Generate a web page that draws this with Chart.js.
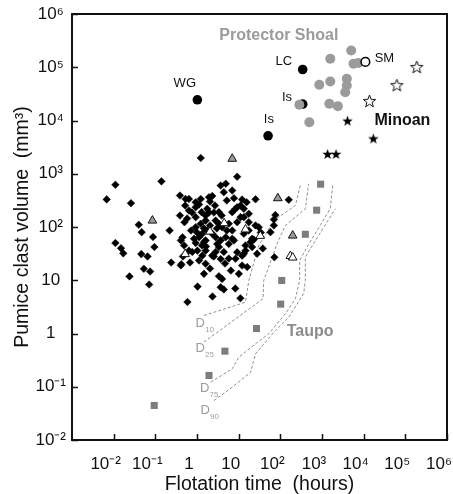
<!DOCTYPE html>
<html>
<head>
<meta charset="utf-8">
<script src="https://cdn.jsdelivr.net/npm/chart.js@4.4.1/dist/chart.umd.min.js"></script>
<style>
  html, body { margin: 0; padding: 0; background: #fff; }
  #wrap { width: 453px; height: 494px; position: relative; }
</style>
</head>
<body>
<div id="wrap"><canvas id="chart"></canvas></div>
<script>
// axis ticks
const xTickValues = [1e-2, 1e-1, 1, 10, 1e2, 1e3, 1e4, 1e5, 1e6];
const xTickLabels = ['10⁻²', '10⁻¹', '1', '10', '10²', '10³', '10⁴', '10⁵', '10⁶'];
const yTickValues = [1e-2, 1e-1, 1, 10, 1e2, 1e3, 1e4, 1e5, 1e6];
const yTickLabels = ['10⁻²', '10⁻¹', '1', '10', '10²', '10³', '10⁴', '10⁵', '10⁶'];

// small diamonds (flotation time in hours, clast volume in mm3)
const diamondTime = [
  0.0068, 0.011, 0.026, 0.14, 1.23, 9.2, 0.040, 0.047, 0.088, 0.095,
  0.011, 0.015, 0.017, 0.046, 0.065, 0.053, 0.075, 0.024, 0.071, 0.22,
  0.24, 0.42, 0.39, 0.64, 0.39, 0.50, 0.45, 0.59, 1.03, 2.35,
  11.0, 8.3, 1.47, 3.36, 4.0, 3.7, 4.4, 10.1, 12.1, 16.0,
  8.4, 9.2, 13.3, 21, 27.7, 14.6, 19.3, 23.1, 17.5, 25.4,
  30.4, 17.5, 13.3, 17.5, 9.2, 13.3, 11.1, 12.1, 15.5, 25.4,
  7.7, 4.4, 7.0, 3.7, 4.9, 1.94, 2.32, 1.23, 0.93, 1.12,
  0.93, 1.29, 1.76, 1.61, 0.93, 1.23, 1.61, 0.93, 1.12, 1.34,
  1.76, 2.32, 2.8, 1.61, 0.93, 1.02, 0.77, 1.61, 1.34, 1.12,
  1.61, 2.32, 2.8, 2.55, 3.06, 3.36, 3.7, 4.9, 5.8, 7.7,
  7.0, 4.4, 3.36, 3.9, 2.8, 3.36, 4.0, 5.8, 7.0, 8.4,
  9.2, 11.1, 13.3, 76, 70, 70, 58, 72, 159, 0.64,
  0.46, 0.68, 2.05, 2.7, 5.2, 3.0, 2.05, 5.2, 5.8, 4.7,
  6.5, 2.05, 1.32, 0.72, 38, 34, 0.52, 0.64, 0.58, 0.76,
  1.47, 1.94, 2.55, 1.0, 0.49, 1.64, 0.53, 0.41, 0.85, 1.47,
  7.0, 21, 3.7, 12.1, 14.6, 0.41
];
const diamondVolume = [
  330, 620, 280, 720, 1980, 880, 110, 80, 65, 42,
  50, 40, 32, 31, 28, 16.4, 14.6, 11.8, 8.3, 86,
  21.5, 20, 390, 336, 164, 123, 64, 3.9, 7.6, 4.95,
  4.6, 7.0, 13.2, 11.9, 10.6, 7.4, 6.7, 13.2, 18.9, 17.7,
  25.3, 33.6, 31.4, 42, 31.4, 45, 52, 58, 86, 107,
  99, 123, 153, 177, 235, 220, 253, 328, 292, 331,
  347, 450, 485, 600, 650, 363, 382, 336, 292, 265,
  235, 190, 220, 164, 153, 115, 132, 99, 64, 75,
  86, 75, 64, 56, 50, 36, 34, 36, 29, 23.5,
  20.4, 29, 34, 28, 48, 42, 56, 64, 48, 56,
  86, 34, 190, 164, 132, 115, 99, 115, 190, 220,
  123, 153, 75, 168, 138, 107, 80, 27, 324, 36,
  28, 21.5, 301, 253, 315, 94, 107, 86, 25.6, 20.6,
  15.2, 16.6, 45, 86, 39.5, 79, 253, 204, 144, 187,
  94, 187, 187, 79, 45, 43, 336, 56, 60, 52,
  60, 60, 25, 29, 36, 19
];

// triangles
const greyTriangleTime = [0.085, 7.0, 87, 198];
const greyTriangleVolume = [132, 1910, 347, 69];
const openTriangleTime = [0.52, 2.05, 4.5, 14.6, 33, 174, 198];
const openTriangleVolume = [31, 82, 118, 90, 68, 28.5, 26.7];

// Taupo squares
const taupoTime = [927, 743, 398, 108, 102, 26.8, 4.68, 1.94, 0.094];
const taupoVolume = [637, 207, 73, 9.9, 3.56, 1.24, 0.466, 0.163, 0.0445];

// labelled black circles: WG, Is, LC, Is
const blackCircleTime = [1.02, 50.8, 344, 344];
const blackCircleVolume = [24500, 5160, 90800, 20300];

// Protector Shoal
const shoalTime = [5020, 1580, 5700, 7500, 861, 1580, 3940, 3940, 3610, 286, 1500, 2400, 497];
const shoalVolume = [206000, 144000, 116000, 120000, 46800, 54000, 60700, 45400, 34000, 19700, 20600, 18600, 9300];

// SM
const smTime = [11000];
const smVolume = [126000];

// Minoan stars
const minoanFilledTime = [4100, 17100, 1360, 2170];
const minoanFilledVolume = [9700, 4500, 2300, 2300];
const minoanOpenTime = [13800, 62600, 188000];
const minoanOpenVolume = [22700, 45100, 98900];

// D10 / D25 / D75 / D90 curves
const d10Time = [1.47, 14.6, 17.5, 30.4, 69.5, 230, 308];
const d10Volume = [2.18, 3.87, 9.9, 45, 132, 254, 647];
const d25Time = [1.47, 38.5, 40, 83, 132, 398, 478];
const d25Volume = [0.69, 4.5, 9.9, 48, 107, 220, 647];
const d75Time = [2.13, 7.0, 10.1, 25.4, 52.7, 132, 230, 291, 291, 436, 1580, 1820];
const d75Volume = [0.122, 0.217, 0.359, 0.64, 0.99, 2.34, 4.5, 9.9, 23.5, 41.8, 220, 647];
const d90Time = [2.55, 7.0, 19.3, 25.4, 76, 159, 363, 398, 398, 525, 2080];
const d90Volume = [0.055, 0.098, 0.187, 0.416, 1.14, 2.02, 5.6, 9.9, 27, 39, 220];

const FONT = "'Liberation Sans', Arial, Helvetica, sans-serif";
const toPoints = (xs, ys) => xs.map((x, i) => ({ x: x, y: ys[i] }));

const makeStar = (outer, fill, stroke) => {
    const size = Math.ceil(outer * 2 + 3) | 1;
    const c = document.createElement('canvas');
    c.width = c.height = size;
    const g = c.getContext('2d');
    g.beginPath();
    for (let i = 0; i < 10; i++) {
        const r = i % 2 ? outer * 0.42 : outer;
        const a = -Math.PI / 2 + i * Math.PI / 5;
        g.lineTo(size / 2 + r * Math.cos(a), size / 2 + r * Math.sin(a));
    }
    g.closePath();
    g.fillStyle = fill;
    g.fill();
    if (stroke) {
        g.lineWidth = 1;
        g.strokeStyle = stroke;
        g.stroke();
    }
    return c;
};

const dashed = (xs, ys) => ({
    type: 'line',
    data: toPoints(xs, ys),
    showLine: true,
    borderColor: '#8f8f8f',
    borderWidth: 1,
    borderDash: [3, 2],
    pointRadius: 0,
    tension: 0,
    order: 10
});

// text placed on the plot (anchored in data units)
const plotTexts = [
    { text: 'Protector Shoal', x: 92, y: 3.9e5, font: 'bold 16px ' + FONT, color: '#9b9b9b' },
    { text: 'Minoan', x: 85000, y: 1.0e4, font: 'bold 16px ' + FONT, color: '#111' },
    { text: 'Taupo', x: 520, y: 1.09, font: 'bold 16px ' + FONT, color: '#8c8c8c' },
    { text: 'WG', x: 0.51, y: 4.9e4, font: '13px ' + FONT, color: '#111' },
    { text: 'LC', x: 121, y: 1.28e5, font: '13px ' + FONT, color: '#111' },
    { text: 'Is', x: 145, y: 2.74e4, font: '13px ' + FONT, color: '#111' },
    { text: 'Is', x: 53, y: 1.04e4, font: '13px ' + FONT, color: '#111' },
    { text: 'SM', x: 31500, y: 1.44e5, font: '13px ' + FONT, color: '#111' }
];
const dLabels = [
    { sub: '10', x: 0.92, y: 1.54 },
    { sub: '25', x: 0.92, y: 0.52 },
    { sub: '75', x: 1.18, y: 0.093 },
    { sub: '90', x: 1.21, y: 0.036 }
];

const framePlugin = {
    id: 'frame',
    afterDatasetsDraw(chart) {
        const { ctx, chartArea: a, scales: { x, y } } = chart;
        ctx.save();
        ctx.strokeStyle = '#111';
        ctx.lineWidth = 1.5;
        ctx.beginPath();
        xTickValues.forEach(v => {
            const px = Math.round(x.getPixelForValue(v)) + 0.5;
            ctx.moveTo(px, a.bottom);
            ctx.lineTo(px, a.bottom - 6);
        });
        yTickValues.forEach(v => {
            const py = Math.round(y.getPixelForValue(v)) + 0.5;
            ctx.moveTo(a.left, py);
            ctx.lineTo(a.left + 6, py);
        });
        ctx.stroke();
        ctx.lineWidth = 2;
        ctx.strokeRect(a.left, a.top, a.right - a.left, a.bottom - a.top);

        ctx.textAlign = 'center';
        ctx.textBaseline = 'middle';
        plotTexts.forEach(t => {
            ctx.font = t.font;
            ctx.fillStyle = t.color;
            ctx.fillText(t.text, x.getPixelForValue(t.x), y.getPixelForValue(t.y));
        });

        ctx.textAlign = 'left';
        ctx.fillStyle = '#9c9c9c';
        dLabels.forEach(d => {
            const px = x.getPixelForValue(d.x);
            const py = y.getPixelForValue(d.y);
            ctx.font = '13px ' + FONT;
            ctx.fillText('D', px, py);
            ctx.font = '8px ' + FONT;
            ctx.fillText(d.sub, px + 9.5, py + 6);
        });
        ctx.restore();
    }
};

new Chart(document.getElementById('chart'), {
    type: 'scatter',
    data: {
        datasets: [
            dashed(d10Time, d10Volume),
            dashed(d25Time, d25Volume),
            dashed(d75Time, d75Volume),
            dashed(d90Time, d90Volume),
            {
                data: toPoints(taupoTime, taupoVolume),
                pointStyle: 'rect', pointRadius: 5,
                backgroundColor: '#7d7d7d', borderWidth: 0, order: 9
            },
            {
                data: toPoints(diamondTime, diamondVolume),
                pointStyle: 'rectRot', pointRadius: 3.8,
                backgroundColor: '#000', borderColor: '#000', borderWidth: 0.5, order: 8
            },
            {
                data: toPoints(greyTriangleTime, greyTriangleVolume),
                pointStyle: 'triangle', pointRadius: 5,
                backgroundColor: '#9a9a9a', borderColor: '#111', borderWidth: 1, order: 7
            },
            {
                data: toPoints(openTriangleTime, openTriangleVolume),
                pointStyle: 'triangle', pointRadius: 5,
                backgroundColor: '#fff', borderColor: '#111', borderWidth: 1, order: 7
            },
            {
                data: toPoints(blackCircleTime, blackCircleVolume),
                pointStyle: 'circle', pointRadius: 4.8,
                backgroundColor: '#000', borderWidth: 0, order: 6
            },
            {
                data: toPoints(shoalTime, shoalVolume),
                pointStyle: 'circle', pointRadius: 5,
                backgroundColor: '#9b9b9b', borderWidth: 0, order: 5
            },
            {
                data: toPoints(smTime, smVolume),
                pointStyle: 'circle', pointRadius: 4.3,
                backgroundColor: '#fff', borderColor: '#000', borderWidth: 1.5, order: 4
            },
            {
                data: toPoints(minoanFilledTime, minoanFilledVolume),
                pointStyle: makeStar(5.5, '#000', null), order: 3
            },
            {
                data: toPoints(minoanOpenTime, minoanOpenVolume),
                pointStyle: makeStar(6.5, '#fff', '#111'), order: 3
            }
        ]
    },
    options: {
        responsive: true,
        maintainAspectRatio: false,
        animation: false,
        events: [],
        layout: { padding: { top: 14, right: 5, left: 0, bottom: 0 } },
        plugins: { legend: { display: false }, tooltip: { enabled: false } },
        scales: {
            x: {
                type: 'logarithmic',
                min: 1e-3,
                max: 1e6,
                afterBuildTicks: s => { s.ticks = xTickValues.map(v => ({ value: v })); },
                afterFit: s => { s.height = 54; s.paddingLeft = 0; s.paddingRight = 0; },
                grid: { display: false },
                border: { display: false },
                ticks: {
                    autoSkip: false, maxRotation: 0, padding: 6, labelOffset: -8,
                    color: '#111', font: { family: FONT, size: 17 },
                    callback: (v, i) => xTickLabels[i]
                },
                title: {
                    display: true, text: 'Flotation time  (hours)', color: '#111',
                    font: { family: FONT, size: 19.5, lineHeight: 1 },
                    padding: { top: 0, bottom: 0 }
                }
            },
            y: {
                type: 'logarithmic',
                min: 1e-2,
                max: 1e6,
                afterBuildTicks: s => { s.ticks = yTickValues.map(v => ({ value: v })); },
                afterFit: s => { s.width = 72; s.paddingTop = 0; s.paddingBottom = 0; },
                grid: { display: false },
                border: { display: false },
                ticks: {
                    autoSkip: false, padding: -2, crossAlign: 'center',
                    color: '#111', font: { family: FONT, size: 17 },
                    callback: (v, i) => yTickLabels[i]
                },
                title: {
                    display: true, text: 'Pumice clast volume  (mm³)', color: '#111',
                    font: { family: FONT, size: 19.5, lineHeight: 1 },
                    padding: { top: 13, bottom: 0 }
                }
            }
        }
    },
    plugins: [framePlugin]
});
</script>
</body>
</html>
